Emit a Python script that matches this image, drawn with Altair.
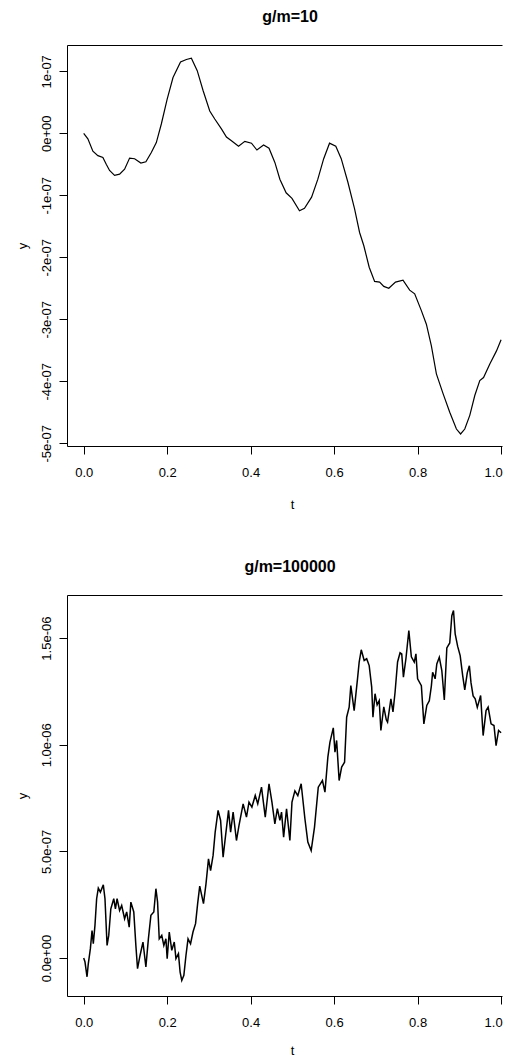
import altair as alt
import pandas as pd

# ---- data (y values in units of 1e-07) ----
top_t = [0.000,0.010,0.022,0.034,0.046,0.054,0.062,0.074,0.086,0.098,0.110,0.122,0.137,0.149,0.162,0.174,0.186,0.200,0.214,0.232,
         0.246,0.258,0.272,0.286,0.302,0.314,0.330,0.342,0.354,0.371,0.386,0.402,0.415,0.431,0.444,0.458,0.470,0.485,0.499,0.517,
         0.529,0.546,0.561,0.575,0.589,0.604,0.617,0.633,0.649,0.661,0.671,0.684,0.697,0.709,0.719,0.731,0.747,0.765,0.781,0.793,
         0.809,0.821,0.833,0.845,0.861,0.877,0.893,0.903,0.913,0.925,0.937,0.949,0.958,0.973,0.989,1.000]
top_v = [0.00,-0.09,-0.29,-0.36,-0.39,-0.50,-0.60,-0.68,-0.66,-0.58,-0.40,-0.41,-0.48,-0.46,-0.31,-0.15,0.15,0.55,0.90,1.15,
         1.19,1.21,1.01,0.69,0.36,0.23,0.07,-0.06,-0.12,-0.21,-0.13,-0.16,-0.27,-0.19,-0.24,-0.47,-0.74,-0.96,-1.05,-1.25,
         -1.21,-1.03,-0.74,-0.41,-0.16,-0.21,-0.41,-0.79,-1.22,-1.60,-1.81,-2.16,-2.39,-2.40,-2.47,-2.50,-2.40,-2.37,-2.53,-2.59,
         -2.86,-3.08,-3.43,-3.88,-4.20,-4.50,-4.77,-4.85,-4.77,-4.55,-4.23,-3.99,-3.94,-3.72,-3.51,-3.33]

bot_t = [0.000,0.003,0.008,0.011,0.016,0.020,0.023,0.027,0.031,0.035,
         0.040,0.047,0.051,0.056,0.060,0.065,0.072,0.076,0.080,0.086,
         0.091,0.098,0.103,0.109,0.113,0.120,0.125,0.129,0.135,0.142,
         0.149,0.155,0.161,0.168,0.173,0.177,0.181,0.187,0.192,0.197,
         0.200,0.205,0.211,0.217,0.221,0.227,0.231,0.235,0.240,0.245,
         0.250,0.256,0.262,0.268,0.273,0.278,0.287,0.293,0.299,0.304,
         0.310,0.315,0.322,0.328,0.334,0.339,0.347,0.352,0.358,0.366,
         0.372,0.382,0.390,0.396,0.403,0.411,0.417,0.426,0.435,0.444,
         0.451,0.458,0.464,0.470,0.474,0.479,0.486,0.494,0.499,0.506,
         0.513,0.521,0.530,0.537,0.545,0.553,0.562,0.572,0.578,0.585,
         0.590,0.598,0.602,0.606,0.612,0.618,0.625,0.630,0.636,0.640,
         0.648,0.656,0.660,0.665,0.672,0.678,0.684,0.690,0.693,0.698,
         0.703,0.708,0.712,0.719,0.725,0.728,0.736,0.741,0.746,0.752,
         0.758,0.762,0.766,0.772,0.779,0.785,0.792,0.796,0.800,0.809,
         0.815,0.822,0.828,0.833,0.836,0.842,0.846,0.852,0.858,0.864,
         0.870,0.877,0.882,0.886,0.890,0.896,0.902,0.908,0.913,0.919,
         0.924,0.928,0.933,0.938,0.943,0.951,0.957,0.964,0.969,0.976,
         0.983,0.988,0.994,1.000]
bot_v = [0.00,-0.17,-0.88,-0.27,0.44,1.29,0.67,1.53,2.78,3.28,
         3.09,3.43,2.78,0.59,1.06,2.31,2.78,2.31,2.78,2.23,
         2.46,1.84,2.16,1.45,2.62,2.16,0.59,-0.50,0.12,0.75,
         -0.42,0.90,2.00,2.16,3.25,2.62,0.90,1.06,0.59,0.90,
         -0.03,1.22,0.36,0.75,-0.03,0.20,-0.66,-1.05,-0.81,0.12,
         0.90,0.67,1.23,1.61,2.55,3.37,2.55,3.48,4.65,4.10,
         4.81,5.90,6.92,6.45,4.73,5.59,6.92,5.90,6.84,5.51,
         6.21,7.23,6.61,7.31,7.08,7.62,7.23,8.01,6.61,8.17,
         7.31,6.29,7.00,6.45,6.84,5.67,7.00,5.51,7.31,7.84,
         7.61,8.17,6.53,5.44,5.04,6.14,8.01,8.32,7.78,9.42,
         10.12,10.79,9.65,10.20,8.32,8.95,9.18,11.29,11.76,12.77,
         11.60,13.09,13.87,14.45,13.95,14.03,13.71,12.70,11.29,12.39,
         11.87,12.07,10.67,11.78,11.17,11.06,12.15,11.54,12.46,13.88,
         14.31,14.26,13.17,14.03,15.35,14.12,13.87,14.26,13.09,12.77,
         10.98,11.84,12.06,12.76,13.40,13.09,13.79,14.10,13.48,12.10,
         14.54,14.77,16.05,16.29,15.20,14.61,14.18,13.24,12.57,13.37,
         13.70,12.90,12.29,12.15,11.75,12.31,10.43,11.60,11.76,10.98,
         10.90,9.96,10.67,10.56]

x_ticks = [0.0, 0.2, 0.4, 0.6, 0.8, 1.0]
top_ticks = [-5e-7, -4e-7, -3e-7, -2e-7, -1e-7, 0.0, 1e-7]
top_labels = ["-5e-07", "-4e-07", "-3e-07", "-2e-07", "-1e-07", "0e+00", "1e-07"]
bot_ticks = [0.0, 5e-7, 1e-6, 1.5e-6]
bot_labels = ["0.0e+00", "5.0e-07", "1.0e-06", "1.5e-06"]
titles = ["g/m=10", "g/m=100000"]

UNIT = 1e-7
top_df = pd.DataFrame({"t": top_t, "y": [v * UNIT for v in top_v]})
bot_df = pd.DataFrame({"t": bot_t, "y": [v * UNIT for v in bot_v]})

W, H = 435, 401
X_DOMAIN = [-0.04, 1.0022]   # the plot box runs on past the window's right edge
FONT = "Liberation Sans"


def label_expr(ticks, labels):
    tol = abs(ticks[1] - ticks[0]) / 10
    parts = [f"abs(datum.value - ({tv})) < {tol} ? '{lab}'" for tv, lab in zip(ticks, labels)]
    return " : ".join(parts) + " : ''"


def panel(df, title, ydomain, yticks, ylabels, line_w, x_title_y):
    xscale = alt.Scale(domain=X_DOMAIN, nice=False, zero=False)
    x_axis = alt.Axis(values=x_ticks, format=".1f", title="t", tickSize=8, labelPadding=12,
                      labelOffset={"condition": {"test": "datum.value > 0.99", "value": -8}, "value": 0},
                      labelFlush=False, labelOverlap=False, titleY=x_title_y, titleBaseline="alphabetic",
                      titleX=225, domain=True, domainColor="black", domainWidth=1)
    y_axis = alt.Axis(values=yticks, labelExpr=label_expr(yticks, ylabels), title="y", tickSize=8,
                      labelAngle=270, labelAlign="center", labelBaseline="bottom", labelPadding=6,
                      labelFlush=False, labelOverlap=False,
                      titleAngle=270, titleAlign="center", titleBaseline="alphabetic",
                      titleX=-41, titleY=H / 2,
                      domain=True, domainColor="black", domainWidth=1)
    top_border = alt.Axis(orient="top", labels=False, ticks=False, title=None,
                          domain=True, domainColor="black", domainWidth=1)
    line = alt.Chart(df).mark_line(color="black", strokeWidth=line_w, clip=True).encode(
        x=alt.X("t:Q", scale=xscale, axis=x_axis),
        y=alt.Y("y:Q", scale=alt.Scale(domain=ydomain, nice=False, zero=False), axis=y_axis),
        order=alt.Order("t:Q"),
    )
    border = alt.Chart(df).mark_rule(opacity=0).encode(
        x=alt.X("t:Q", scale=xscale, axis=top_border),
    )
    head = alt.Chart(pd.DataFrame({"label": [title]})).mark_text(
        font=FONT, fontSize=16, fontWeight="bold", color="black",
        align="center", baseline="alphabetic",
    ).encode(
        text="label:N",
        x=alt.value(223),
        y=alt.value(-23),
    )
    return alt.layer(line, border, head).resolve_axis(x="independent").properties(width=W, height=H)


top = panel(top_df, titles[0], [-5.044e-7, 1.424e-7], top_ticks, top_labels, 1.2, 62)
bot = panel(bot_df, titles[1], [-1.78e-7, 1.702e-6], bot_ticks, bot_labels, 1.5, 58)

chart = alt.vconcat(top, bot, spacing=46).properties(
    padding={"left": 7, "top": 0, "right": 0, "bottom": 0},
    background="white",
).configure_view(
    stroke="transparent",
).configure_axis(
    domain=False, grid=False, tickColor="black", tickWidth=1,
    labelFont=FONT, labelFontSize=13, labelColor="black",
    titleFont=FONT, titleFontSize=13, titleFontWeight="normal", titleColor="black",
)

chart.save("out.html", embed_options={"renderer": "svg", "actions": False})
